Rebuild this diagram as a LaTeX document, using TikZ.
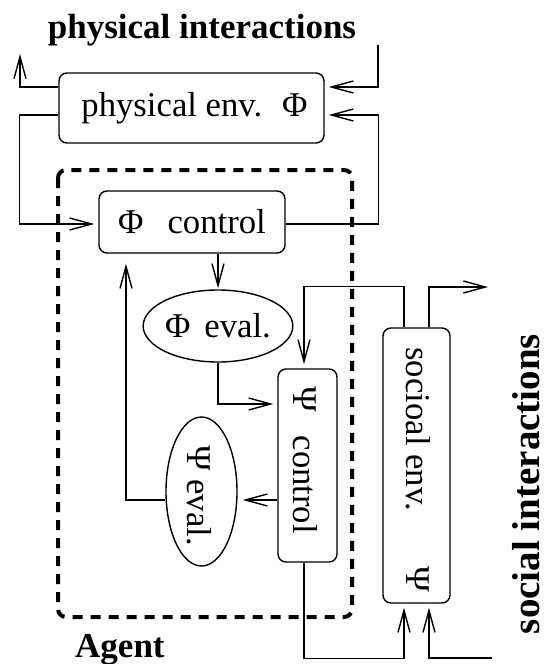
\documentclass[tikz,border=0pt]{standalone}
\usepackage{fontspec}
\setmainfont{Liberation Serif}
\usetikzlibrary{arrows.meta,shapes.geometric}
\begin{document}
\begin{tikzpicture}[x=1pt,y=-1pt,
  txt/.style={font=\fontsize{34.7}{40}\selectfont, inner sep=0pt},
  bold/.style={font=\fontsize{35}{40}\selectfont\bfseries, inner sep=0pt},
  rbox/.style={draw, line width=1.4pt, rounded corners=8pt, inner sep=0pt, font=\fontsize{34.7}{40}\selectfont},
  ell/.style={draw, line width=1.4pt, ellipse, inner sep=0pt, font=\fontsize{34.7}{40}\selectfont},
  arr/.style={line width=1.4pt, -{Straight Barb[length=22pt,width=12pt,line width=1.4pt]}, shorten >=4pt},
  agentbox/.style={draw, line width=4pt, dash pattern=on 10pt off 8pt, rounded corners=8pt}
]
\useasboundingbox (0,0) rectangle (544,664);

% agent dashed frame
\draw[agentbox] (58,170) rectangle (352,617);

% nodes
\node[rbox, minimum width=265pt, minimum height=70pt] (penv) at (191.5,108)
  {\hspace*{6pt}physical env.\hspace{20pt}Φ};
\node[rbox, minimum width=186pt, minimum height=62pt] (phictl) at (192,222)
  {Φ\hspace{24pt}control\hspace{16pt}};
\node[ell, minimum width=135pt, minimum height=72pt] (phieval) at (218,326)
  {Φ\hspace{14pt}eval.};
\node[rbox, minimum width=59pt, minimum height=193pt] (psictl) at (307.5,465.5) {};
\node[txt, rotate=-90] (psictltxt) at (305,460) {Ψ\hspace{24pt}control};
\node[ell, minimum width=71pt, minimum height=149pt] (psieval) at (201.5,491.5) {};
\node[txt, rotate=-90] (psievaltxt) at (199,496) {Ψ\hspace{8pt}eval.};
\node[rbox, minimum width=67pt, minimum height=275pt] (senv) at (416.5,465.5) {};
\node[txt, rotate=-90] (senvtxt) at (418,470) {socioal env.\hspace{56pt}Ψ};

% labels
\node[bold, anchor=base] (lphys) at (202,38) {physical interactions};
\node[bold, anchor=base west] (lagent) at (75,657) {Agent};
\node[font=\fontsize{39}{44}\selectfont\bfseries, inner sep=0pt, text depth=0pt, anchor=base, rotate=90] (lsoc) at (539.5,484) {social interactions};

% free ends
\coordinate (pout) at (20,50);
\coordinate (pin) at (378,45);
\coordinate (sout) at (492,287);
\coordinate (sin) at (492,658);

% physical loop
\draw[arr] ([yshift=21pt]penv.west) -| (pout);
\draw[arr] ([yshift=-7pt]penv.west) -- ++(-39,0) |- ([yshift=-2pt]phictl.west);
\draw[arr] (pin) |- ([yshift=21pt]penv.east);
\draw[arr] ([yshift=-2pt]phictl.east) -| ([xshift=54pt,yshift=-7pt]penv.east) -- ([yshift=-7pt]penv.east);

% agent internals
\draw[arr, shorten >=1pt] (phictl.south -| phieval.north) -- (phieval.north);
\draw[arr] (phieval.south) |- ([yshift=61.5pt]psictl.west);
\coordinate (a) at ([yshift=-34.5pt]psictl.west);
\draw[arr, shorten >=5pt] (a) -- (a -| psieval.east);
\draw[arr, shorten >=10pt] (a -| psieval.west) -| ([xshift=-66pt]phictl.south);

% social loop
\draw[arr] ([xshift=-12.5pt]senv.north) -- ++(0,-41) -| ([xshift=-3.5pt]psictl.north);
\draw[arr] ([xshift=12.5pt]senv.north) |- (sout);
\coordinate (b1) at ([xshift=-12.5pt]senv.south);
\draw[arr] ([xshift=-3.5pt]psictl.south) |- ([yshift=-55pt]b1) -- (b1);
\draw[arr] (sin) -| ([xshift=12.5pt]senv.south);
\end{tikzpicture}
\end{document}
